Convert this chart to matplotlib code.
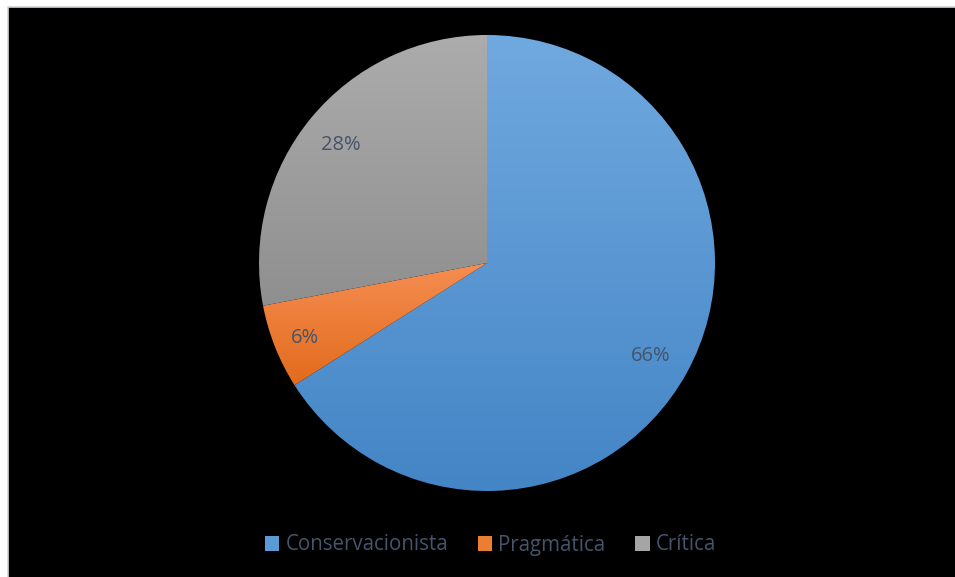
import matplotlib
matplotlib.use("Agg")
import matplotlib.pyplot as plt
import numpy as np
from matplotlib.patches import Rectangle
from matplotlib.colors import LinearSegmentedColormap

categories = ["Conservacionista", "Pragmática", "Crítica"]
values = [66, 6, 28]
labels_pct = ["66%", "6%", "28%"]
colors_top = ["#70A9DF", "#F58E52", "#ACACAC"]
colors_bot = ["#4485C6", "#E26B1C", "#8F8F8F"]
legend_colors = ["#5B9BD5", "#ED7D31", "#A5A5A5"]

plt.rcParams['font.family'] = ['Open Sans', 'DejaVu Sans']
W, H = 955, 577
fig = plt.figure(figsize=(W/100, H/100), dpi=100)
fig.patch.set_facecolor("white")

bg = Rectangle((7.5/W, -0.01), 1.02 - 7.5/W, (H - 6.5)/H + 0.01, transform=fig.transFigure,
               facecolor="black", edgecolor="#D0D3D8", linewidth=1.2, zorder=-5)
fig.patches.append(bg)

cx, cy, r = 487, H - 263, 228
ax = fig.add_axes([(cx - r)/W, (cy - r)/H, 2*r/W, 2*r/H])
ax.set_zorder(2)
ax.set_facecolor("none")
wedges, _ = ax.pie(values, startangle=90, counterclock=False, radius=1,
                   colors=legend_colors, wedgeprops=dict(linewidth=0))
ax.set_xlim(-1, 1)
ax.set_ylim(-1, 1)
ax.set_aspect("equal")
ax.axis("off")

grad = np.linspace(1, 0, 256).reshape(-1, 1)
for w, ct, cb in zip(wedges, colors_top, colors_bot):
    ext = w.get_path().get_extents()
    cmap = LinearSegmentedColormap.from_list("g", [cb, ct])
    im = ax.imshow(grad, cmap=cmap, extent=[ext.x0, ext.x1, ext.y0, ext.y1],
                   aspect="auto", origin="upper", zorder=2)
    im.set_clip_path(w)
    w.set_facecolor("none")
ax.set_xlim(-1, 1)
ax.set_ylim(-1, 1)

# percentage labels
start = 90.0
total = sum(values)
pct_dist = [0.82, 0.86, 0.83]
yoff = -3.0 / r
for v, lab, d in zip(values, labels_pct, pct_dist):
    span = 360.0 * v / total
    mid = np.deg2rad(start - span/2)
    ax.text(d*np.cos(mid), d*np.sin(mid) + yoff, lab, ha="center", va="center",
            fontsize=14.5, color="#44546A", zorder=5)
    start -= span

handles = [Rectangle((0, 0), 1, 1, facecolor=c, edgecolor="none") for c in legend_colors]
leg = fig.legend(handles, categories, loc="center",
                 bbox_to_anchor=(0.5 + 13/W, (H - 545)/H),
                 ncol=3, frameon=False, fontsize=14.8, handlelength=0.7, handleheight=0.7,
                 handletextpad=0.3, columnspacing=1.45, labelcolor="#44546A")

fig.savefig("out.png", dpi=100, facecolor="white")
